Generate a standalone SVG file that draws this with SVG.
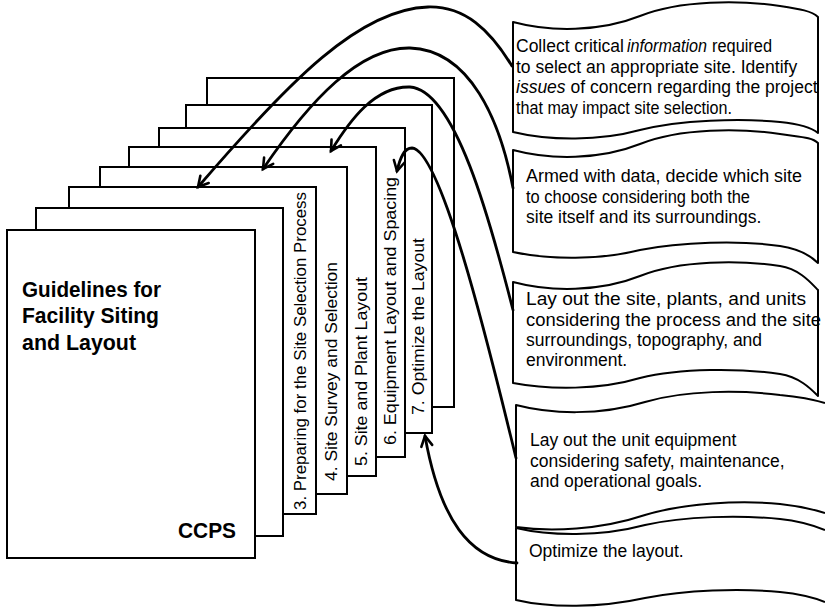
<svg xmlns="http://www.w3.org/2000/svg" width="825" height="610" viewBox="0 0 825 610">
<style>
.pg{fill:#fff;stroke:#000;stroke-width:2}
.lbl{font-family:"Liberation Sans",Arial,sans-serif;font-size:16.5px;fill:#000}
.ttl{font-family:"Liberation Sans",Arial,sans-serif;font-size:22px;font-weight:bold;fill:#000}
.nf{fill:#fff;stroke:none}
.ns{fill:none;stroke:#000;stroke-width:2;stroke-linejoin:round}
.nt{font-family:"Liberation Sans",Arial,sans-serif;font-size:17.5px;fill:#000}
.it{font-style:italic}
.con{fill:none;stroke:#000;stroke-width:2.8;stroke-linecap:round;marker-end:url(#ah)}
</style>
<defs>
<marker id="ah" markerUnits="userSpaceOnUse" markerWidth="24" markerHeight="24" refX="0" refY="0" orient="auto" overflow="visible">
<path d="M-10,-5.5 L0,0 L-10,5.5" fill="none" stroke="#000" stroke-width="2.6" stroke-linecap="round" stroke-linejoin="miter"/>
</marker>
</defs>
<rect width="825" height="610" fill="#fff"/>

<g id="page8"><rect class="pg" x="207" y="78" width="247" height="329"/></g>
<g id="page7"><rect class="pg" x="186" y="105" width="246" height="328"/>
<text class="lbl" transform="translate(423.5,415) rotate(-90)" textLength="177" lengthAdjust="spacingAndGlyphs">7. Optimize the Layout</text></g>
<g id="page6"><rect class="pg" x="159" y="128" width="246" height="329"/>
<text class="lbl" transform="translate(396,445) rotate(-90)" textLength="268" lengthAdjust="spacingAndGlyphs">6. Equipment Layout and Spacing</text></g>
<g id="page5"><rect class="pg" x="129" y="147" width="247" height="329"/>
<text class="lbl" transform="translate(366.5,466) rotate(-90)" textLength="189" lengthAdjust="spacingAndGlyphs">5. Site and Plant Layout</text></g>
<g id="page4"><rect class="pg" x="100" y="167" width="247" height="327"/>
<text class="lbl" transform="translate(336.5,481) rotate(-90)" textLength="219" lengthAdjust="spacingAndGlyphs">4. Site Survey and Selection</text></g>
<g id="page3"><rect class="pg" x="69" y="187" width="247" height="327"/>
<text class="lbl" transform="translate(305.5,510) rotate(-90)" textLength="318" lengthAdjust="spacingAndGlyphs">3. Preparing for the Site Selection Process</text></g>
<g id="page2"><rect class="pg" x="36" y="208" width="247" height="328"/></g>
<g id="page1"><rect class="pg" x="7" y="230" width="248" height="328"/>
<text class="ttl" x="22" y="297" textLength="139" lengthAdjust="spacingAndGlyphs">Guidelines for</text>
<text class="ttl" x="22" y="323" textLength="137" lengthAdjust="spacingAndGlyphs">Facility Siting</text>
<text class="ttl" x="22" y="350" textLength="114" lengthAdjust="spacingAndGlyphs">and Layout</text>
<text class="ttl" x="178" y="538" textLength="58" lengthAdjust="spacingAndGlyphs">CCPS</text></g>

<g id="note1">
<path class="nf" d="M513,22 C550,32 600,32 640,16 C680,0 740,0 780,6 C800,9 812,11 818,17 L818,133 C812,128 800,124 780,122 C740,118 680,120 640,130 C600,141 550,141 513,132 Z"/>
<path class="ns" d="M513,22 C550,32 600,32 640,16 C680,0 740,0 780,6 C800,9 812,11 818,17 L818,133 C812,128 800,124 780,122 C740,118 680,120 640,130 C600,141 550,141 513,132 Z"/>
<text class="nt" x="516" y="52">Collect critical</text>
<text class="nt it" x="627" y="52" textLength="80" lengthAdjust="spacingAndGlyphs">information</text>
<text class="nt" x="712" y="52" textLength="60" lengthAdjust="spacingAndGlyphs">required</text>
<text class="nt" x="516" y="72.5">to select an appropriate site. Identify</text>
<text class="nt" x="516" y="93"><tspan class="it">issues</tspan> of concern regarding the project</text>
<text class="nt" x="516" y="113.5" textLength="216" lengthAdjust="spacingAndGlyphs">that may impact site selection.</text>
</g>

<g id="note2">
<path class="nf" d="M513,150 C550,160 600,160 640,144 C680,128 740,128 780,134 C800,137 812,137 818,143 L818,263 C812,257 800,249 780,246 C740,240 680,242 640,250 C600,260 550,260 513,252 Z"/>
<path class="ns" d="M513,150 C550,160 600,160 640,144 C680,128 740,128 780,134 C800,137 812,137 818,143 L818,263 C812,257 800,249 780,246 C740,240 680,242 640,250 C600,260 550,260 513,252 Z"/>
<text class="nt" x="526" y="182" textLength="276" lengthAdjust="spacingAndGlyphs">Armed with data, decide which site</text>
<text class="nt" x="526" y="202.5" textLength="224" lengthAdjust="spacingAndGlyphs">to choose considering both the</text>
<text class="nt" x="526" y="223">site itself and its surroundings.</text>
</g>

<g id="note3">
<path class="nf" d="M513,282 C550,292 600,292 640,276 C680,260 740,260 780,266 C800,269 812,284 818,290 L818,396 C812,390 800,377 780,374 C740,368 680,368 640,378 C600,390 550,390 513,383 Z"/>
<path class="ns" d="M513,282 C550,292 600,292 640,276 C680,260 740,260 780,266 C800,269 812,284 818,290 L818,396 C812,390 800,377 780,374 C740,368 680,368 640,378 C600,390 550,390 513,383 Z"/>
<text class="nt" x="526" y="305" textLength="280" lengthAdjust="spacingAndGlyphs">Lay out the site, plants, and units</text>
<text class="nt" x="526" y="325.5" textLength="295" lengthAdjust="spacingAndGlyphs">considering the process and the site</text>
<text class="nt" x="526" y="346">surroundings, topography, and</text>
<text class="nt" x="526" y="366">environment.</text>
</g>

<g id="note4">
<path class="nf" d="M516,405 C550,414 600,416 645,402 C685,390 740,390 780,395 C800,397 815,400 825,403 L825,513 C815,510 800,506 780,504 C740,500 685,503 645,515 C600,530 550,532 516,527 Z"/>
<path class="ns" d="M825,403 C815,400 800,397 780,395 C740,390 685,390 645,402 C600,416 550,414 516,405 L516,527 C550,532 600,530 645,515 C685,503 740,500 780,504 C800,506 815,510 825,513"/>
<text class="nt" x="530" y="446">Lay out the unit equipment</text>
<text class="nt" x="530" y="466.5">considering safety, maintenance,</text>
<text class="nt" x="530" y="487">and operational goals.</text>
</g>

<g id="note5">
<path class="nf" d="M516,528 C550,536 600,537 645,525 C685,516 740,515 780,519 C800,521 815,526 825,530 L825,602 C815,598 800,594 780,592 C740,588 685,590 645,598 C600,608 550,608 516,600 Z"/>
<path class="ns" d="M825,530 C815,526 800,521 780,519 C740,515 685,516 645,525 C600,537 550,536 516,528 L516,600 C550,608 600,608 645,598 C685,590 740,588 780,592 C800,594 815,598 825,602"/>
<text class="nt" x="529" y="557">Optimize the layout.</text>
</g>

<g id="connectors">
<path class="con" d="M512,66 C490,30 465,6 428,7 C360,9 290,80 198,187"/>
<path class="con" d="M513,188 C500,120 470,50 410,48 C360,47 310,100 263,169"/>
<path class="con" d="M513,310 C490,220 455,90 410,87 C375,86 350,120 331,151"/>
<path class="con" d="M516,458 C485,330 440,150 412,148 C404,148 400,158 397,171"/>
<path class="con" d="M517,563 C470,560 440,520 425,436"/>
</g>
</svg>
